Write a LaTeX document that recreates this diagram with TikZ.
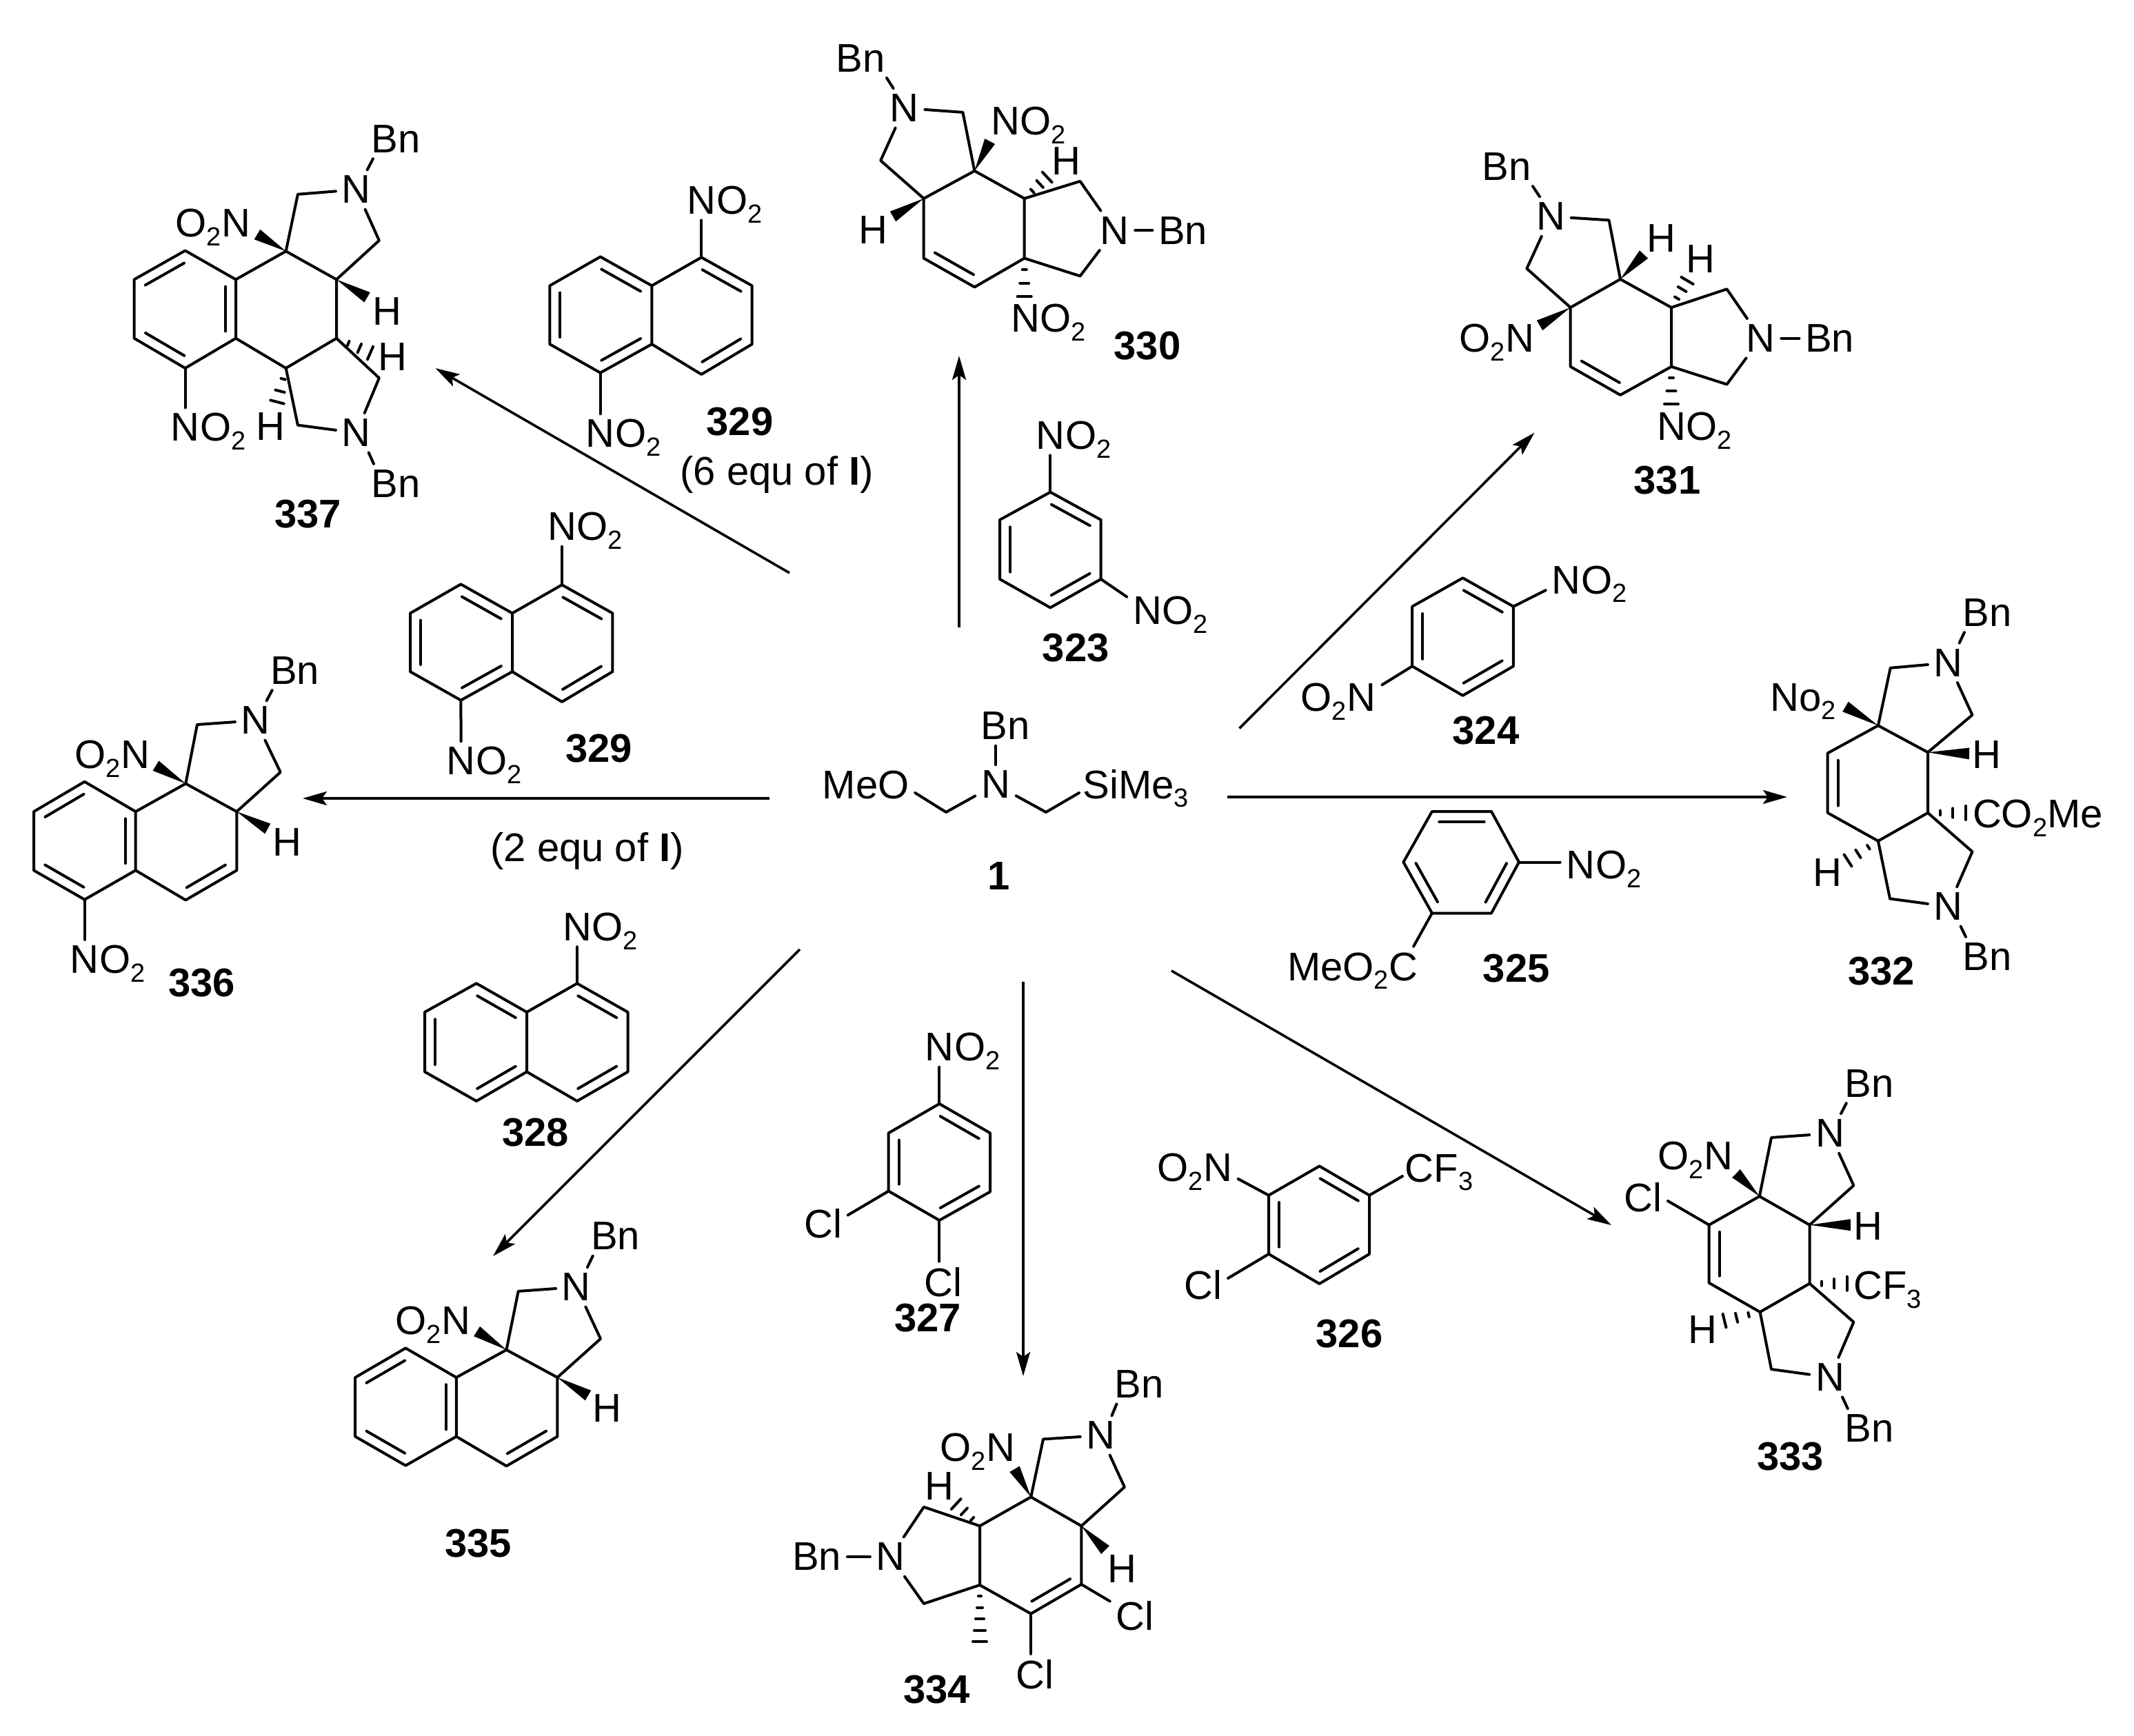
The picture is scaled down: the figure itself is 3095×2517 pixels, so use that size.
\documentclass[tikz,border=0pt]{standalone}
\usepackage{fontspec}
\setmainfont{Liberation Sans}
\usetikzlibrary{calc,arrows.meta}

\newcommand{\subn}[1]{\raisebox{-6.4pt}{\fontsize{19}{19}\selectfont #1}}
\newcommand{\dbl}[2]{\draw [bond] ($(#1)!.12!(#2)!7.5pt!90:(#2)$) -- ($(#2)!.12!(#1)!7.5pt!-90:(#1)$);}
\newcommand{\wedgeb}[2]{\fill ($(#2)!4.2pt!90:(#1)$) -- (#1) -- ($(#2)!4.2pt!-90:(#1)$) -- cycle;}
\newcommand{\hashb}[3]{\foreach \f in {#3} {
    \coordinate (hp) at ($(#1)!\f!(#2)$);
    \draw [bond] ($(hp)!5pt*\f!90:(#1)$) -- ($(hp)!5pt*\f!-90:(#1)$);
  }}
\newcommand{\nitro}[3]{\node (#1) at (#2,#3) [atom] {N};
  \node (#1o) at ([xshift=-4.2pt]#1.base east) [tag,anchor=base west] {O\subn{2}};}
\newcommand{\orton}[3]{\node (#1) at (#2,#3) [atom] {N};
  \node (#1o) at ([xshift=4.2pt]#1.base west) [tag,anchor=base east] {O\subn{2}};}

\begin{document}
\begin{tikzpicture}[
    x=0.5pt,y=-0.5pt,
    font=\fontsize{29}{31}\selectfont,
    bond/.style={line width=2pt,line cap=round,line join=round},
    atom/.style={inner sep=4.2pt},
    tag/.style={inner sep=0pt},
    num/.style={inner sep=0pt,font=\fontsize{29}{31}\selectfont\bfseries},
    arrow/.style={line width=1.8pt,-{Stealth[length=17.5pt,width=10pt,inset=3.5pt]}}
    ]
    \useasboundingbox (0,0) rectangle (3095,2517);

    % reaction arrows:
    \foreach \i/\x/\y/\u/\v in {1/1145/831/631.5/534, 2/1391/910/1391/516, 3/1797.5/1056.5/2225.5/627.6,
      4/1780/1156/2592/1156, 5/1699/1408/2337/1777, 6/1484/1424/1484/1996,
      7/1160/1377/715/1822, 8/1116/1158/439/1158}{
      \coordinate (s\i) at (\x,\y);
      \coordinate (t\i) at (\u,\v);
      \draw [arrow] (s\i) -- (t\i);
    }

    % starting amine 1:
    \coordinate (m1a) at (1372,1178);
    \coordinate (m1b) at (1517,1178);
    \node (n1) at (1444,1138) [atom] {N};
    \node (b1) at (1458,1053) [atom] {Bn};
    \node (t1a) at (1184,1158) [atom,anchor=base west] {MeO};
    \node (t1b) at (1562,1158) [atom,anchor=base west] {SiMe\subn{3}};
    \node (l1) at (1449,1271) [num] {1};
    \draw [bond] (n1.north) -- (n1.north |- b1.south);
    \draw [bond] ([yshift=4pt]t1a.base east) -- (m1a) -- (n1);
    \draw [bond] (n1) -- (m1b) -- ([shift={(1.5pt,4pt)}]t1b.base west);

    % compound 337:
    \foreach \i/\x/\y in {a/268.6/363.5,b/194.6/405.4,c/194.6/490.7,d/268.6/534,e/342/490.7,f/342/405.4,
      g/414.7/364.4,h/488/405.4,i/488/490.7,j/414.7/534,k/431.9/281.8,l/549.9/348.8,m/549.9/548.3,
      o/431.9/616.6,w/373/340,x/532.6/431.3,y/537/512,z/402/583}
    \coordinate (m337\i) at (\x,\y);
    \node (n337a) at (516.7,275) [atom] {N};
    \node (n337b) at (516.7,627.8) [atom] {N};
    \node (b337a) at (574,201.5) [atom] {Bn};
    \node (b337b) at (574,701.5) [atom] {Bn};
    \orton{n337c}{342.6}{324}
    \nitro{n337d}{268.6}{620}
    \node (h337a) at (561.3,451.4) [atom] {H};
    \node (h337b) at (569.6,517.5) [atom] {H};
    \node (h337c) at (392.3,618.8) [atom] {H};
    \node (l337) at (446.6,746) [num] {337};
    \draw [bond] (m337a) -- (m337b) -- (m337c) -- (m337d) -- (m337e) -- (m337f) -- cycle;
    \draw [bond] (m337f) -- (m337g) -- (m337h) -- (m337i) -- (m337j) -- (m337e);
    \draw [bond] (m337g) -- (m337k) -- (n337a);
    \draw [bond] (n337a) -- (m337l) -- (m337h);
    \draw [bond] (m337i) -- (m337m) -- (n337b);
    \draw [bond] (n337b) -- (m337o) -- (m337j);
    \draw [bond] ([xshift=8pt]n337a.north) -- ([xshift=-16.5pt]b337a.south);
    \draw [bond] ([xshift=9pt]n337b.south) -- ([xshift=-16pt]b337b.north);
    \draw [bond] (m337d) -- (n337d);
    \dbl{m337a}{m337b} \dbl{m337c}{m337d} \dbl{m337e}{m337f}
    \wedgeb{m337g}{m337w} \wedgeb{m337h}{m337x}
    \hashb{m337i}{m337y}{.35,.68,1} \hashb{m337j}{m337z}{.32,.68,1}

    % compound 330:
    \foreach \i/\x/\y in {a/1413.4/247.9,b/1485.7/287.9,c/1485.7/374.6,d/1413.4/416.4,e/1339.7/374.6,
      f/1339.7/287.9,k/1396.4/162.9,l/1277.2/232.9,m/1566.5/262.9,o/1566.5/400.4,w/1435.7/205,
      x/1295/314,y/1518.7/257,z/1485.7/430}
    \coordinate (m330\i) at (\x,\y);
    \node (n330a) at (1311.6,156.8) [atom] {N};
    \node (n330b) at (1616.5,334.3) [atom] {N};
    \node (b330a) at (1248,84.3) [atom] {Bn};
    \node (b330b) at (1715.7,334.3) [atom] {Bn};
    \nitro{n330c}{1458}{175.7}
    \nitro{n330d}{1487}{461.4}
    \node (h330a) at (1546,234) [atom] {H};
    \node (h330b) at (1266,333.6) [atom] {H};
    \node (l330) at (1664,502) [num] {330};
    \draw [bond] (m330a) -- (m330b) -- (m330c) -- (m330d) -- (m330e) -- (m330f) -- cycle;
    \draw [bond] (m330a) -- (m330k) -- (n330a);
    \draw [bond] (n330a) -- (m330l) -- (m330f);
    \draw [bond] (m330b) -- (m330m) -- (n330b);
    \draw [bond] (n330b) -- (m330o) -- (m330c);
    \draw [bond] ([xshift=-8pt]n330a.north) -- ([xshift=19pt]b330a.south);
    \draw [bond] (n330b) -- (b330b);
    \dbl{m330e}{m330d}
    \wedgeb{m330a}{m330w} \wedgeb{m330f}{m330x}
    \hashb{m330b}{m330y}{.35,.68,1} \hashb{m330c}{m330z}{.3,.65,1}

    % compound 331:
    \foreach \i/\x/\y in {a/2350/405,b/2424/446,c/2424/531.8,d/2350/572.9,e/2277.7/531.8,f/2277.7/446,
      k/2333.5/319.3,l/2214.3/389.6,m/2504.5/419.3,o/2504.5/557.5,w/2384/369,x/2233/472,
      y/2447/407,z/2424/586.4}
    \coordinate (m331\i) at (\x,\y);
    \node (n331a) at (2249,314) [atom] {N};
    \node (n331b) at (2553.6,490.7) [atom] {N};
    \node (b331a) at (2185,241.4) [atom] {Bn};
    \node (b331b) at (2653.7,490.7) [atom] {Bn};
    \orton{n331c}{2204}{491}
    \nitro{n331d}{2424}{618.6}
    \node (h331a) at (2409.4,346) [atom] {H};
    \node (h331b) at (2466,375.4) [atom] {H};
    \node (l331) at (2418,697) [num] {331};
    \draw [bond] (m331a) -- (m331b) -- (m331c) -- (m331d) -- (m331e) -- (m331f) -- cycle;
    \draw [bond] (m331a) -- (m331k) -- (n331a);
    \draw [bond] (n331a) -- (m331l) -- (m331f);
    \draw [bond] (m331b) -- (m331m) -- (n331b);
    \draw [bond] (n331b) -- (m331o) -- (m331c);
    \draw [bond] ([xshift=-8pt]n331a.north) -- ([xshift=19pt]b331a.south);
    \draw [bond] (n331b) -- (b331b);
    \dbl{m331e}{m331d}
    \wedgeb{m331a}{m331w} \wedgeb{m331f}{m331x}
    \hashb{m331b}{m331y}{.35,.68,1} \hashb{m331c}{m331z}{.3,.65,1}

    % compound 332:
    \foreach \i/\x/\y in {a/2723.9/1052.4,b/2796/1091.2,c/2796/1179,d/2723.9/1219.8,e/2650.7/1179,
      f/2650.7/1092.4,k/2741.7/968.8,l/2860.5/1037,m/2860.5/1235.3,o/2741/1303.5,w/2676.5/1025,
      x/2856/1093,y/2851/1179,z/2680/1248}
    \coordinate (m332\i) at (\x,\y);
    \node (n332a) at (2825.6,961.4) [atom] {N};
    \node (n332b) at (2825.6,1314.9) [atom] {N};
    \node (b332a) at (2882,888.4) [atom] {Bn};
    \node (b332b) at (2882,1387.6) [atom] {Bn};
    \node (t332a) at (2567,1031) [tag,anchor=base west] {No\subn{2}};
    \node (t332b) at (2860.6,1200.6) [tag,anchor=base west] {CO\subn{2}Me};
    \node (h332a) at (2881.4,1095) [atom] {H};
    \node (h332b) at (2650.7,1266) [atom] {H};
    \node (l332) at (2728.5,1408.8) [num] {332};
    \draw [bond] (m332a) -- (m332b) -- (m332c) -- (m332d) -- (m332e) -- (m332f) -- cycle;
    \draw [bond] (m332a) -- (m332k) -- (n332a);
    \draw [bond] (n332a) -- (m332l) -- (m332b);
    \draw [bond] (m332c) -- (m332m) -- (n332b);
    \draw [bond] (n332b) -- (m332o) -- (m332d);
    \draw [bond] ([xshift=8pt]n332a.north) -- ([xshift=-16.5pt]b332a.south);
    \draw [bond] ([xshift=9pt]n332b.south) -- ([xshift=-15.5pt]b332b.north);
    \dbl{m332f}{m332e}
    \wedgeb{m332a}{m332w} \wedgeb{m332b}{m332x}
    \hashb{m332c}{m332y}{.32,.66,1} \hashb{m332d}{m332z}{.32,.66,1}

    % compound 333:
    \foreach \i/\x/\y in {a/2551.8/1735.2,b/2624.5/1776.7,c/2624.5/1861.7,d/2552.6/1903,e/2478.7/1860.8,
      f/2478.7/1776.7,k/2569/1650,l/2688.4/1719.5,m/2688.4/1917.6,o/2569/1986,w/2518/1702,
      x/2683.8/1776.7,y/2678.9/1861.7,z/2501/1915.6}
    \coordinate (m333\i) at (\x,\y);
    \node (n333a) at (2654,1644) [atom] {N};
    \node (n333b) at (2654,1997.7) [atom] {N};
    \node (b333a) at (2710.8,1571.4) [atom] {Bn};
    \node (b333b) at (2710.8,2071.8) [atom] {Bn};
    \orton{n333c}{2492}{1676.6}
    \node (c333) at (2382.8,1737) [atom] {Cl};
    \node (t333) at (2688,1884.5) [tag,anchor=base west] {CF\subn{3}};
    \node (h333a) at (2709.5,1778.8) [atom] {H};
    \node (h333b) at (2469.5,1928.8) [atom] {H};
    \node (l333) at (2596.6,2112.5) [num] {333};
    \draw [bond] (m333a) -- (m333b) -- (m333c) -- (m333d) -- (m333e) -- (m333f) -- cycle;
    \draw [bond] (m333a) -- (m333k) -- (n333a);
    \draw [bond] (n333a) -- (m333l) -- (m333b);
    \draw [bond] (m333c) -- (m333m) -- (n333b);
    \draw [bond] (n333b) -- (m333o) -- (m333d);
    \draw [bond] ([xshift=8pt]n333a.north) -- ([xshift=-16.5pt]b333a.south);
    \draw [bond] ([xshift=9pt]n333b.south) -- ([xshift=-15.5pt]b333b.north);
    \draw [bond] (m333f) -- ([yshift=-2.5pt]c333.east);
    \dbl{m333f}{m333e}
    \wedgeb{m333a}{m333w} \wedgeb{m333b}{m333x}
    \hashb{m333c}{m333y}{.32,.66,1} \hashb{m333d}{m333z}{.32,.66,1}

    % compound 334:
    \foreach \i/\x/\y in {a/1495.2/2171.3,b/1568.4/2213.3,c/1568.4/2298,d/1495.2/2340.6,e/1421/2299,
      f/1421/2213.3,k/1513/2087.4,l/1630.9/2156.9,m/1339.8/2185.8,o/1339.8/2326,w/1471.5/2130.8,
      x/1603/2248,y/1386.7/2181.5,z/1421/2381}
    \coordinate (m334\i) at (\x,\y);
    \node (n334a) at (1596.5,2082) [atom] {N};
    \node (n334b) at (1291.6,2258) [atom] {N};
    \node (b334a) at (1652.4,2007.8) [atom] {Bn};
    \node (b334b) at (1184.6,2258) [atom] {Bn};
    \orton{n334c}{1451.4}{2100}
    \node (c334a) at (1645.9,2344) [atom] {Cl};
    \node (c334b) at (1500.8,2429) [atom] {Cl};
    \node (h334a) at (1362,2156) [atom] {H};
    \node (h334b) at (1627.8,2275.5) [atom] {H};
    \node (l334) at (1358.6,2451) [num] {334};
    \draw [bond] (m334a) -- (m334b) -- (m334c) -- (m334d) -- (m334e) -- (m334f) -- cycle;
    \draw [bond] (m334a) -- (m334k) -- (n334a);
    \draw [bond] (n334a) -- (m334l) -- (m334b);
    \draw [bond] (m334f) -- (m334m) -- (n334b);
    \draw [bond] (n334b) -- (m334o) -- (m334e);
    \draw [bond] ([xshift=8pt]n334a.north) -- ([xshift=-16.5pt]b334a.south);
    \draw [bond] (n334b) -- (b334b);
    \draw [bond] (m334c) -- (c334a);
    \draw [bond] (m334d) -- (m334d |- c334b.north);
    \dbl{m334d}{m334c}
    \wedgeb{m334a}{m334w} \wedgeb{m334b}{m334x}
    \hashb{m334f}{m334y}{.32,.66,1} \hashb{m334e}{m334z}{.2,.4,.6,.8,1}

    % compound 335:
    \foreach \i/\x/\y in {a/588.3/1955.4,b/515.2/1997.9,c/515.2/2083.6,d/588.3/2125.7,e/661.8/2083.6,
      f/661.8/1997.9,g/734.5/1957.9,h/808.4/1997.9,i/808.4/2083.6,j/734.5/2126.4,k/751.7/1872.9,
      l/871/1941.8,w/691.6/1931,x/853/2024}
    \coordinate (m335\i) at (\x,\y);
    \node (n335a) at (835.9,1866.8) [atom] {N};
    \node (b335) at (892.7,1793) [atom] {Bn};
    \orton{n335c}{661.8}{1916}
    \node (h335) at (880.7,2042.9) [atom] {H};
    \node (l335) at (693.5,2239) [num] {335};
    \draw [bond] (m335a) -- (m335b) -- (m335c) -- (m335d) -- (m335e) -- (m335f) -- cycle;
    \draw [bond] (m335f) -- (m335g) -- (m335h) -- (m335i) -- (m335j) -- (m335e);
    \draw [bond] (m335g) -- (m335k) -- (n335a);
    \draw [bond] (n335a) -- (m335l) -- (m335h);
    \draw [bond] ([xshift=8pt]n335a.north) -- ([xshift=-16.5pt]b335.south);
    \dbl{m335a}{m335b} \dbl{m335c}{m335d} \dbl{m335e}{m335f} \dbl{m335j}{m335i}
    \wedgeb{m335g}{m335w} \wedgeb{m335h}{m335x}

    % compound 336:
    \foreach \i/\x/\y in {a/122.7/1133.8,b/49/1177.2,c/49/1262.4,d/122.7/1304.8,e/196.7/1262.4,
      f/196.7/1177.2,g/269.3/1136.6,h/343.3/1177.2,i/343.3/1262.4,j/269.3/1305.5,k/286/1051,
      l/406.7/1120,w/226/1110.7,x/388.3/1202}
    \coordinate (m336\i) at (\x,\y);
    \node (n336a) at (370.7,1045) [atom] {N};
    \node (b336) at (427.7,972.4) [atom] {Bn};
    \orton{n336c}{196}{1095}
    \nitro{n336d}{122.7}{1391.7}
    \node (h336) at (416,1222) [atom] {H};
    \node (l336) at (292.7,1426) [num] {336};
    \draw [bond] (m336a) -- (m336b) -- (m336c) -- (m336d) -- (m336e) -- (m336f) -- cycle;
    \draw [bond] (m336f) -- (m336g) -- (m336h) -- (m336i) -- (m336j) -- (m336e);
    \draw [bond] (m336g) -- (m336k) -- (n336a);
    \draw [bond] (n336a) -- (m336l) -- (m336h);
    \draw [bond] ([xshift=8pt]n336a.north) -- ([xshift=-16.5pt]b336.south);
    \draw [bond] (m336d) -- (n336d);
    \dbl{m336a}{m336b} \dbl{m336c}{m336d} \dbl{m336e}{m336f} \dbl{m336j}{m336i}
    \wedgeb{m336g}{m336w} \wedgeb{m336h}{m336x}

    % dinitronaphthalene 329, twice, and nitronaphthalene 328:
    \foreach \p/\dx/\dy in {u329/0/0,v329/-202.3/475}{
      \foreach \i/\x/\y in {a/870.7/372.4,b/797.3/414.4,c/797.3/499.2,d/870.7/540.7,e/945.3/499.2,
        f/945.3/414.4,g/1017.3/373.3,h/1090.7/414.4,i/1090.7/499.2,j/1017.3/543}
      \coordinate (\p\i) at (\x+\dx,\y+\dy);
    }
    \foreach \i/\x/\y in {a/691/1426.4,b/616/1468,c/616/1554.6,d/691/1597,e/764/1554.6,f/764/1468,
      g/837/1426.4,h/910.5/1468,i/910.5/1554.6,j/837/1597}
    \coordinate (w328\i) at (\x,\y);
    \foreach \p in {u329,v329,w328}{
      \draw [bond] (\p a) -- (\p b) -- (\p c) -- (\p d) -- (\p e) -- (\p f) -- cycle;
      \draw [bond] (\p f) -- (\p g) -- (\p h) -- (\p i) -- (\p j) -- (\p e);
      \dbl{\p f}{\p a} \dbl{\p b}{\p c} \dbl{\p d}{\p e} \dbl{\p h}{\p g} \dbl{\p j}{\p i}
    }
    \nitro{n329a}{1017.3}{290.7}
    \nitro{n329b}{870.7}{629}
    \nitro{n329c}{815}{764}
    \nitro{n329d}{668.7}{1104}
    \nitro{n328}{837}{1344.5}
    \node (l329a) at (1073,612) [num] {329};
    \node (l329b) at (868.7,1086) [num] {329};
    \node (l328) at (776.8,1642.5) [num] {328};
    \node (e329a) at (986,703.6) [tag,anchor=base west] {(6 equ of \textbf{I})};
    \node (e329b) at (711,1249) [tag,anchor=base west] {(2 equ of \textbf{I})};
    \draw [bond] (u329g) -- (n329a);
    \draw [bond] (u329d) -- (n329b);
    \draw [bond] (v329g) -- (n329c);
    \draw [bond] (v329d) -- (n329d);
    \draw [bond] (w328g) -- (n328);

    % dinitrobenzene 323:
    \foreach \i/\x/\y in {a/1523.3/713.8,b/1596.7/754,c/1596.7/840,d/1523.3/881.4,e/1450/840,f/1450/754}
    \coordinate (m323\i) at (\x,\y);
    \nitro{n323a}{1523.3}{631.7}
    \nitro{n323b}{1664}{886}
    \node (l323) at (1560.3,940) [num] {323};
    \draw [bond] (m323a) -- (m323b) -- (m323c) -- (m323d) -- (m323e) -- (m323f) -- cycle;
    \draw [bond] (m323a) -- (n323a);
    \draw [bond] (m323c) -- (n323b);
    \dbl{m323b}{m323a} \dbl{m323f}{m323e} \dbl{m323d}{m323c}

    % dinitrobenzene 324:
    \foreach \i/\x/\y in {a/2121.5/838.3,b/2194.9/879.7,c/2194.9/966.3,d/2121.5/1008.8,e/2048.2/966.3,f/2048.2/879.7}
    \coordinate (m324\i) at (\x,\y);
    \nitro{n324a}{2271.4}{841.2}
    \orton{n324b}{1974.8}{1011.7}
    \node (l324) at (2155,1059.3) [num] {324};
    \draw [bond] (m324a) -- (m324b) -- (m324c) -- (m324d) -- (m324e) -- (m324f) -- cycle;
    \draw [bond] (m324b) -- (n324a);
    \draw [bond] (m324e) -- (n324b);
    \dbl{m324b}{m324a} \dbl{m324f}{m324e} \dbl{m324d}{m324c}

    % nitro ester 325:
    \foreach \i/\x/\y in {a/2076.9/1177,b/2163/1177,c/2203/1250.5,d/2163/1324.5,e/2076.9/1324.5,f/2035.4/1250.5}
    \coordinate (m325\i) at (\x,\y);
    \nitro{n325}{2292.4}{1254.5}
    \node (t325) at (2064.7,1422) [atom,anchor=base east] {MeO\subn{2}C};
    \node (l325) at (2199.3,1405) [num] {325};
    \draw [bond] (m325a) -- (m325b) -- (m325c) -- (m325d) -- (m325e) -- (m325f) -- cycle;
    \draw [bond] (m325c) -- (m325c -| n325.west);
    \draw [bond] (m325e) -- ([xshift=-7.3pt]t325.north east);
    \dbl{m325b}{m325a} \dbl{m325f}{m325e} \dbl{m325d}{m325c}

    % chloride 326:
    \foreach \i/\x/\y in {a/1913.6/1691.4,b/1986/1733.7,c/1986/1818.9,d/1913.6/1862,e/1840/1818.9,f/1840/1733.7}
    \coordinate (m326\i) at (\x,\y);
    \orton{n326}{1766}{1694}
    \node (t326) at (2029,1714) [atom,anchor=base west] {CF\subn{3}};
    \node (c326) at (1744.9,1864) [atom] {Cl};
    \node (l326) at (1957,1935) [num] {326};
    \draw [bond] (m326a) -- (m326b) -- (m326c) -- (m326d) -- (m326e) -- (m326f) -- cycle;
    \draw [bond] (m326f) -- (n326);
    \draw [bond] (m326b) -- ([shift={(2.5pt,4pt)}]t326.base west);
    \draw [bond] (m326e) -- ([yshift=5pt]c326.east);
    \dbl{m326b}{m326a} \dbl{m326f}{m326e} \dbl{m326d}{m326c}

    % dichloride 327:
    \foreach \i/\x/\y in {a/1362.4/1601,b/1436/1643.4,c/1436/1728.6,d/1362.4/1770,e/1288.7/1727.6,f/1288.7/1643.4}
    \coordinate (m327\i) at (\x,\y);
    \nitro{n327}{1362.4}{1519}
    \node (c327a) at (1193.5,1774.5) [atom] {Cl};
    \node (c327b) at (1367.8,1859.7) [atom] {Cl};
    \node (l327) at (1345.6,1912) [num] {327};
    \draw [bond] (m327a) -- (m327b) -- (m327c) -- (m327d) -- (m327e) -- (m327f) -- cycle;
    \draw [bond] (m327a) -- (n327);
    \draw [bond] (m327e) -- ([yshift=6pt]c327a.east);
    \draw [bond] (m327d) -- (m327d |- c327b.north);
    \dbl{m327b}{m327a} \dbl{m327f}{m327e} \dbl{m327d}{m327c}

\end{tikzpicture}
\end{document}
